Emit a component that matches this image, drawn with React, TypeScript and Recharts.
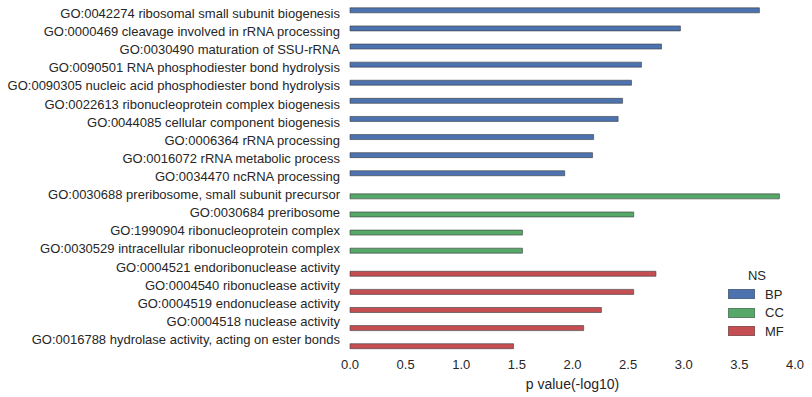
import React from "react";
import { BarChart, Bar, XAxis, YAxis } from "recharts";

const terms = [
  "GO:0042274 ribosomal small subunit biogenesis",
  "GO:0000469 cleavage involved in rRNA processing",
  "GO:0030490 maturation of SSU-rRNA",
  "GO:0090501 RNA phosphodiester bond hydrolysis",
  "GO:0090305 nucleic acid phosphodiester bond hydrolysis",
  "GO:0022613 ribonucleoprotein complex biogenesis",
  "GO:0044085 cellular component biogenesis",
  "GO:0006364 rRNA processing",
  "GO:0016072 rRNA metabolic process",
  "GO:0034470 ncRNA processing",
  "GO:0030688 preribosome, small subunit precursor",
  "GO:0030684 preribosome",
  "GO:1990904 ribonucleoprotein complex",
  "GO:0030529 intracellular ribonucleoprotein complex",
  "GO:0004521 endoribonuclease activity",
  "GO:0004540 ribonuclease activity",
  "GO:0004519 endonuclease activity",
  "GO:0004518 nuclease activity",
  "GO:0016788 hydrolase activity, acting on ester bonds",
];

const namespaces = ["BP", "BP", "BP", "BP", "BP", "BP", "BP", "BP", "BP", "BP", "CC", "CC", "CC", "CC", "MF", "MF", "MF", "MF", "MF"];

const pvalues = [3.68, 2.97, 2.8, 2.62, 2.53, 2.45, 2.41, 2.19, 2.18, 1.93, 3.86, 2.55, 1.55, 1.55, 2.75, 2.55, 2.26, 2.1, 1.47];

const xTicks = [0, 0.5, 1, 1.5, 2, 2.5, 3, 3.5, 4];

const nsList = ["BP", "CC", "MF"];
const nsColors: Record<string, string> = { BP: "#4C72B0", CC: "#55A868", MF: "#C44E52" };

const data = terms.map((t, i) => ({
  term: t,
  BP: namespaces[i] === "BP" ? pvalues[i] : null,
  CC: namespaces[i] === "CC" ? pvalues[i] : null,
  MF: namespaces[i] === "MF" ? pvalues[i] : null,
}));

const FONT = "'Liberation Sans', Arial, sans-serif";
const TEXT = "#262626";

// plain tick so long GO terms never wrap
function TermTick(props: any) {
  const { x, y, payload } = props;
  return (
    <text x={x} y={y} dy={3} textAnchor="end" fill={TEXT} fontSize={13} fontFamily={FONT}>
      {payload.value}
    </text>
  );
}

function NsLegend() {
  return (
    <div
      style={{
        position: "absolute",
        left: 728,
        top: 267,
        fontFamily: FONT,
        fontSize: 13,
        color: TEXT,
      }}
    >
      <div style={{ textAlign: "center", width: 58, height: 18, lineHeight: "18px" }}>NS</div>
      {nsList.map((ns) => (
        <div key={ns} style={{ display: "flex", alignItems: "center", height: 18.5 }}>
          <span
            style={{
              display: "inline-block",
              width: 25,
              height: 8,
              background: nsColors[ns],
              border: "1px solid rgba(90,90,90,0.5)",
              marginRight: 10,
            }}
          />
          <span>{ns}</span>
        </div>
      ))}
    </div>
  );
}

export default function App() {
  return (
    <div style={{ position: "absolute", left: 0, top: 0, width: 812, height: 397, background: "#fff" }}>
      <BarChart
        width={812}
        height={397}
        data={data}
        layout="vertical"
        margin={{ top: 6, right: 17, left: 0, bottom: 0 }}
        barCategoryGap="10%"
        barGap={0}
      >
        <XAxis
          type="number"
          domain={[0, 4]}
          ticks={xTicks}
          tickFormatter={(v: number) => v.toFixed(1)}
          axisLine={false}
          tickLine={false}
          tickMargin={4}
          height={47}
          tick={{ fill: TEXT, fontSize: 13, fontFamily: FONT }}
          label={{
            value: "p value(-log10)",
            position: "insideBottom",
            offset: 8,
            fill: TEXT,
            fontSize: 14,
            fontFamily: FONT,
          }}
        />
        <YAxis
          type="category"
          dataKey="term"
          width={350}
          axisLine={false}
          tickLine={false}
          tickMargin={4}
          interval={0}
          tick={<TermTick />}
        />
        {nsList.map((ns) => (
          <Bar
            key={ns}
            dataKey={ns}
            fill={nsColors[ns]}
            stroke="rgba(60,60,60,0.6)"
            strokeWidth={1}
            isAnimationActive={false}
          />
        ))}
      </BarChart>
      <NsLegend />
    </div>
  );
}
